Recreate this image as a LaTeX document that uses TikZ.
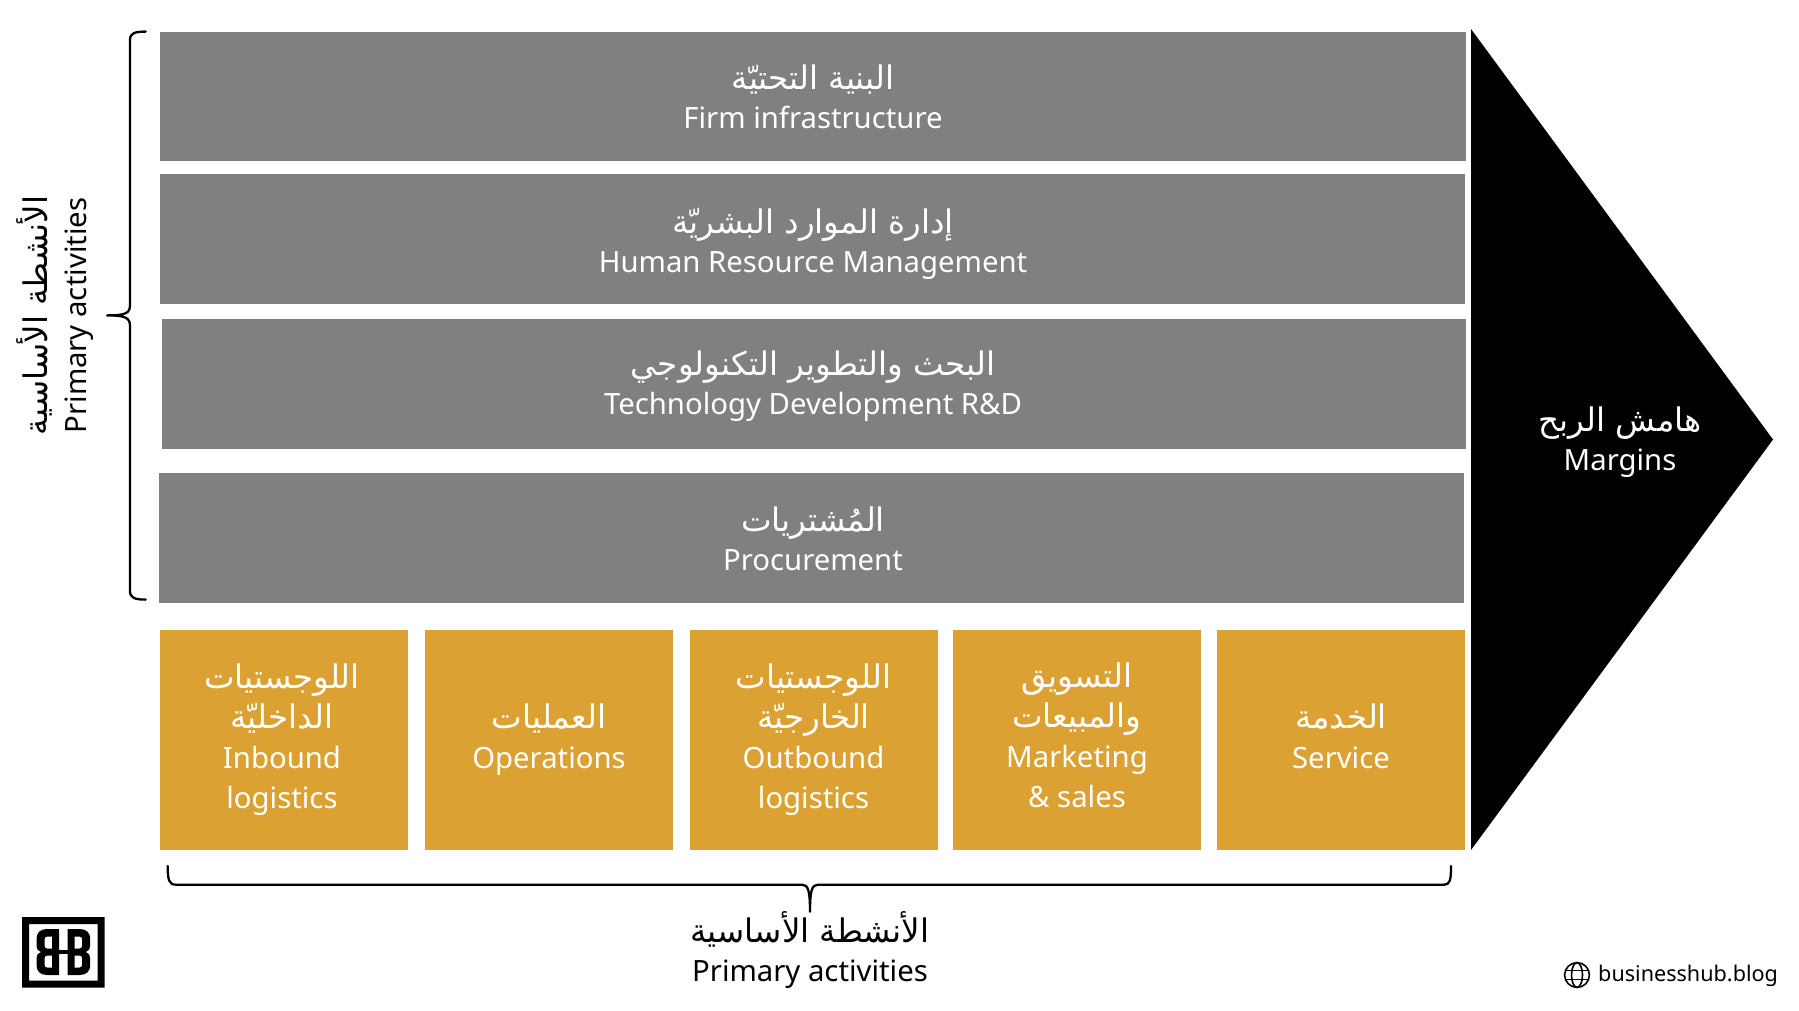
\documentclass[tikz,border=0pt]{standalone}
\usepackage{fontspec}
\setmainfont{Noto Sans}
\newfontfamily\arabicfont[Script=Arabic]{DejaVu Sans}
\TeXXeTstate=1
\newcommand{\artxt}[1]{{\arabicfont\fontsize{32.5}{39}\selectfont\beginR #1\endR}}
\newcommand{\labfont}{\fontsize{29.3}{39}\selectfont\lineskiplimit=-100pt\relax}
\newcommand{\goldfont}{\fontsize{29.3}{40}\selectfont\lineskiplimit=-100pt\relax}
\newcommand{\logoB}{\fill[black,even odd rule] (59,929) -- (47,929) .. controls (40,929) and (36.5,933) .. (36.5,939) -- (36.5,946) .. controls (36.5,949) and (38,951) .. (41,952) .. controls (38,953) and (36.5,955) .. (36.5,958) -- (36.5,965) .. controls (36.5,971) and (40,975) .. (47,975) -- (59,975) -- cycle
 (52,936.5) -- (47,936.5) .. controls (45,936.5) and (44.5,938) .. (44.5,940) -- (44.5,945) .. controls (44.5,947) and (45,948.5) .. (47,948.5) -- (52,948.5) -- cycle
 (52,955.5) -- (47,955.5) .. controls (45,955.5) and (44.5,957) .. (44.5,959) -- (44.5,964) .. controls (44.5,966) and (45,967.5) .. (47,967.5) -- (52,967.5) -- cycle;}
\definecolor{graybox}{HTML}{808080}
\definecolor{goldbox}{HTML}{DBA233}
\tikzset{
  px/.style={x=1pt,y=-1pt},
  panel/.style={fill=graybox,draw=none,inner sep=0pt,outer sep=0pt},
  gold/.style={fill=goldbox,draw=none,inner sep=0pt,outer sep=0pt},
  lab/.style={align=center,inner sep=0pt,text=white,font=\labfont},
  goldlab/.style={align=center,inner sep=0pt,text=white,font=\goldfont},
  darklab/.style={align=center,inner sep=0pt,text=black,font=\labfont},
  bracket/.style={draw=black,line width=2.3pt,line cap=round,line join=round},
}
\begin{document}
\begin{tikzpicture}[px]
\useasboundingbox (0,0) rectangle (1799,1010);
\fill[white] (0,0) rectangle (1799,1010);
\node[panel,minimum width=1306.5pt,minimum height=128.7pt] (b1) at (812.75,96.35) {};
\node[panel,minimum width=1305.5pt,minimum height=129.6pt] (b2) at (812.25,239.2) {};
\node[panel,minimum width=1304.2pt,minimum height=129.7pt] (b3) at (813.9,383.85) {};
\node[panel,minimum width=1305.2pt,minimum height=129.8pt] (b4) at (811.4,537.6) {};
\node[gold,minimum width=248.5pt,minimum height=220pt] (g1) at (283.75,740) {};
\node[gold,minimum width=248.5pt,minimum height=220pt] (g2) at (548.75,740) {};
\node[gold,minimum width=248.5pt,minimum height=220pt] (g3) at (813.75,740) {};
\node[gold,minimum width=248.5pt,minimum height=220pt] (g4) at (1077,740) {};
\node[gold,minimum width=248.5pt,minimum height=220pt] (g5) at (1341,740) {};
\fill[black] (1471,29) -- (1773,439.5) -- (1471,850) -- cycle;
\node[lab] (l1) at (813,97) {\artxt{البنية التحتيّة}\\Firm infrastructure};
\node[lab] (l2) at (813,244) {\artxt{إدارة الموارد البشريّة}\\Human Resource Management};
\node[lab] (l3) at (813,386) {\artxt{البحث والتطوير التكنولوجي}\\Technology Development R\&D};
\node[lab] (l4) at (813,539) {\artxt{المُشتريات}\\Procurement};
\node[goldlab] (l5) at (282,739.5) {\artxt{اللوجستيات}\\\artxt{الداخليّة}\\Inbound\\logistics};
\node[goldlab] (l6) at (549,739.5) {\artxt{العمليات}\\Operations};
\node[goldlab] (l7) at (813.5,739.5) {\artxt{اللوجستيات}\\\artxt{الخارجيّة}\\Outbound\\logistics};
\node[goldlab] (l8) at (1077,735.5) {\artxt{التسويق}\\\artxt{والمبيعات}\\Marketing\\\& sales};
\node[goldlab] (l9) at (1341,736) {\artxt{الخدمة}\\Service};
\node[lab] (l10) at (1620,442) {\artxt{هامش الربح}\\Margins};
\node[darklab,rotate=90] (l11) at (55,315.5) {\artxt{الأنشطة الأساسية}\\Primary activities};
\node[darklab] (l12) at (810,949.5) {\artxt{الأنشطة الأساسية}\\Primary activities};
% left brace
\draw[bracket] (145.7,31.6) .. controls (135,31.6) and (130,33) .. (130,40)
  -- (130,305) .. controls (130,313) and (126,315.4) .. (107,315.4)
  (107,315.4) .. controls (126,315.4) and (130,318) .. (130,326)
  -- (130,591) .. controls (130,598) and (135,599.6) .. (145.7,599.6);
% bottom brace
\draw[bracket] (167.7,866) .. controls (167.7,880) and (169,884.7) .. (176,884.7)
  -- (802,884.7) .. controls (808,884.7) and (810,890) .. (810,911.7)
  (810,911.7) .. controls (810,890) and (812,884.7) .. (818,884.7)
  -- (1444,884.7) .. controls (1450,884.7) and (1451,880) .. (1451,866);
% logo
\fill[black,even odd rule] (22,917) rectangle (104.7,987.7) (29,924) rectangle (97.7,980.7);
\logoB
\begin{scope}[shift={(126.7,0)},xscale=-1]
\logoB
\end{scope}
\fill[black] (57,949.8) rectangle (70,954.2);
% globe
\begin{scope}[line width=1.6pt,draw=black]
\draw (1577,975) circle (12.4);
\draw (1577,975) ellipse (5.5 and 12.4);
\draw (1565.5,970.5) -- (1588.5,970.5) (1565.5,979.5) -- (1588.5,979.5);
\end{scope}
\node[anchor=base west,inner sep=0pt,font=\fontsize{21.6}{25}\selectfont] (url) at (1598,981.7) {businesshub.blog};
\end{tikzpicture}
\end{document}
